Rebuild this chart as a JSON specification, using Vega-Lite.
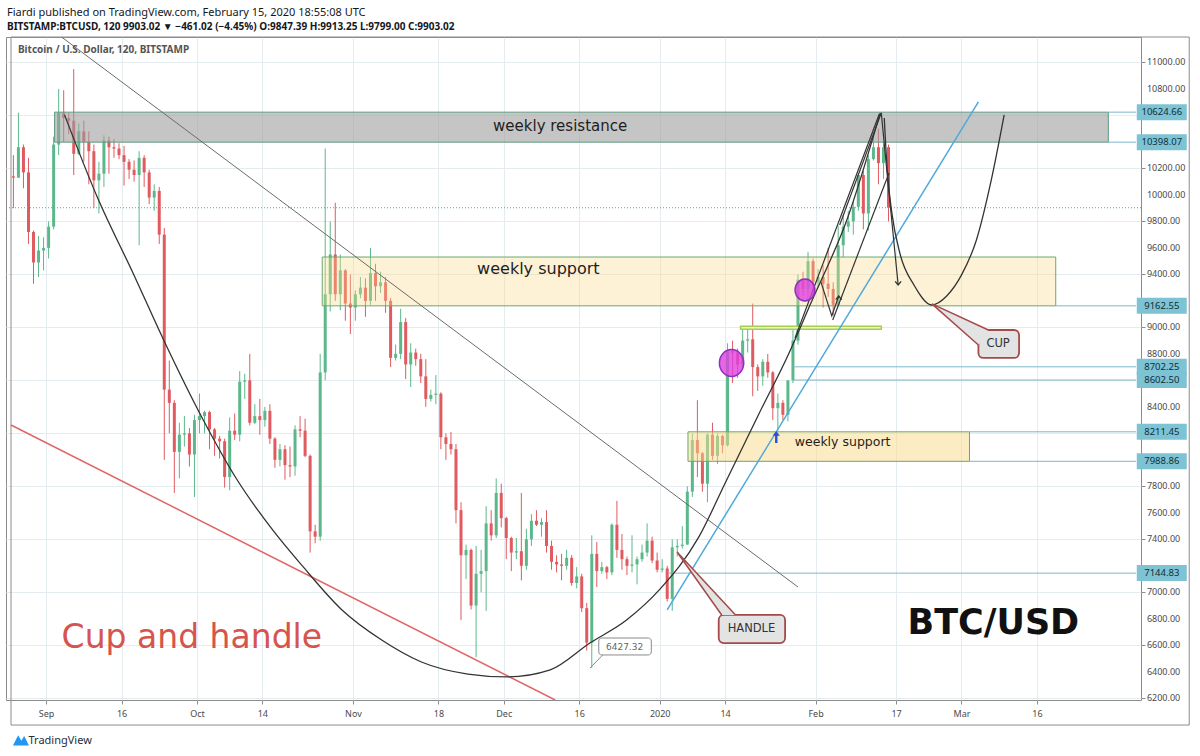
{
  "$schema": "https://vega.github.io/schema/vega-lite/v6.json",
  "width": 1135,
  "height": 663,
  "autosize": "none",
  "padding": {"left": 6, "top": 37, "right": 59, "bottom": 56},
  "background": "#ffffff",
  "title": {
    "text": "Fiardi published on TradingView.com, February 15, 2020 18:55:08 UTC",
    "subtitle": "BITSTAMP:BTCUSD, 120  9903.02 ▼ −461.02 (−4.45%)  O:9847.39  H:9913.25  L:9799.00  C:9903.02",
    "anchor": "start", "frame": "group", "offset": 5, "dx": 1,
    "font": "Noto Sans", "fontSize": 11, "fontWeight": "normal", "color": "#131722",
    "subtitleFont": "Noto Sans", "subtitleFontSize": 10, "subtitleFontWeight": "bold", "subtitleColor": "#131722", "subtitlePadding": 4
  },
  "datasets": {
    "candles": [
      {"d":"2019-08-25","o":10140,"h":10300,"l":9900,"c":10130},
      {"d":"2019-08-26","o":10130,"h":10620,"l":10130,"c":10360},
      {"d":"2019-08-27","o":10360,"h":10380,"l":10050,"c":10170},
      {"d":"2019-08-28","o":10170,"h":10280,"l":9630,"c":9720},
      {"d":"2019-08-29","o":9720,"h":9730,"l":9330,"c":9490},
      {"d":"2019-08-30","o":9490,"h":9690,"l":9380,"c":9580},
      {"d":"2019-08-31","o":9580,"h":9680,"l":9430,"c":9600},
      {"d":"2019-09-01","o":9600,"h":9800,"l":9520,"c":9760},
      {"d":"2019-09-02","o":9760,"h":10440,"l":9740,"c":10380},
      {"d":"2019-09-03","o":10380,"h":10800,"l":10300,"c":10620},
      {"d":"2019-09-04","o":10620,"h":10790,"l":10400,"c":10580},
      {"d":"2019-09-05","o":10580,"h":10620,"l":10460,"c":10560},
      {"d":"2019-09-06","o":10560,"h":10950,"l":10150,"c":10310},
      {"d":"2019-09-07","o":10310,"h":10540,"l":10300,"c":10480},
      {"d":"2019-09-08","o":10480,"h":10560,"l":10250,"c":10400},
      {"d":"2019-09-09","o":10400,"h":10480,"l":10080,"c":10330},
      {"d":"2019-09-10","o":10330,"h":10380,"l":9900,"c":10110},
      {"d":"2019-09-11","o":10110,"h":10250,"l":9860,"c":10160},
      {"d":"2019-09-12","o":10160,"h":10450,"l":10060,"c":10410},
      {"d":"2019-09-13","o":10410,"h":10440,"l":10160,"c":10360},
      {"d":"2019-09-14","o":10360,"h":10420,"l":10280,"c":10350},
      {"d":"2019-09-15","o":10350,"h":10390,"l":10270,"c":10300},
      {"d":"2019-09-16","o":10300,"h":10370,"l":10070,"c":10250},
      {"d":"2019-09-17","o":10250,"h":10270,"l":10120,"c":10190},
      {"d":"2019-09-18","o":10190,"h":10260,"l":10100,"c":10150},
      {"d":"2019-09-19","o":10150,"h":10330,"l":9620,"c":10280},
      {"d":"2019-09-20","o":10280,"h":10300,"l":10060,"c":10170},
      {"d":"2019-09-21","o":10170,"h":10190,"l":9930,"c":9980},
      {"d":"2019-09-22","o":9980,"h":10080,"l":9880,"c":10030},
      {"d":"2019-09-23","o":10030,"h":10060,"l":9630,"c":9700},
      {"d":"2019-09-24","o":9700,"h":9750,"l":8000,"c":8530},
      {"d":"2019-09-25","o":8530,"h":8750,"l":8200,"c":8430},
      {"d":"2019-09-26","o":8430,"h":8450,"l":7750,"c":8060},
      {"d":"2019-09-27","o":8060,"h":8280,"l":7860,"c":8190},
      {"d":"2019-09-28","o":8190,"h":8330,"l":8100,"c":8200},
      {"d":"2019-09-29","o":8200,"h":8240,"l":7950,"c":8040},
      {"d":"2019-09-30","o":8040,"h":8340,"l":7720,"c":8300},
      {"d":"2019-10-01","o":8300,"h":8500,"l":8200,"c":8330},
      {"d":"2019-10-02","o":8330,"h":8370,"l":8200,"c":8360},
      {"d":"2019-10-03","o":8360,"h":8370,"l":8080,"c":8230},
      {"d":"2019-10-04","o":8230,"h":8240,"l":8030,"c":8160},
      {"d":"2019-10-05","o":8160,"h":8180,"l":8010,"c":8140},
      {"d":"2019-10-06","o":8140,"h":8160,"l":7790,"c":7870},
      {"d":"2019-10-07","o":7870,"h":8320,"l":7770,"c":8220},
      {"d":"2019-10-08","o":8220,"h":8350,"l":8150,"c":8190},
      {"d":"2019-10-09","o":8190,"h":8670,"l":8140,"c":8590},
      {"d":"2019-10-10","o":8590,"h":8650,"l":8460,"c":8600},
      {"d":"2019-10-11","o":8600,"h":8800,"l":8260,"c":8280},
      {"d":"2019-10-12","o":8280,"h":8420,"l":8270,"c":8330},
      {"d":"2019-10-13","o":8330,"h":8460,"l":8190,"c":8300},
      {"d":"2019-10-14","o":8300,"h":8400,"l":8250,"c":8370},
      {"d":"2019-10-15","o":8370,"h":8420,"l":8120,"c":8160},
      {"d":"2019-10-16","o":8160,"h":8170,"l":7940,"c":8000},
      {"d":"2019-10-17","o":8000,"h":8120,"l":7950,"c":8080},
      {"d":"2019-10-18","o":8080,"h":8110,"l":7850,"c":7960},
      {"d":"2019-10-19","o":7960,"h":8100,"l":7870,"c":7950},
      {"d":"2019-10-20","o":7950,"h":8260,"l":7880,"c":8230},
      {"d":"2019-10-21","o":8230,"h":8330,"l":8170,"c":8220},
      {"d":"2019-10-22","o":8220,"h":8310,"l":8020,"c":8030},
      {"d":"2019-10-23","o":8030,"h":8040,"l":7300,"c":7460},
      {"d":"2019-10-24","o":7460,"h":7510,"l":7370,"c":7420},
      {"d":"2019-10-25","o":7420,"h":8800,"l":7390,"c":8660},
      {"d":"2019-10-26","o":8660,"h":10350,"l":8600,"c":9250},
      {"d":"2019-10-27","o":9250,"h":9800,"l":9120,"c":9550},
      {"d":"2019-10-28","o":9550,"h":9940,"l":9200,"c":9250},
      {"d":"2019-10-29","o":9250,"h":9550,"l":9130,"c":9430},
      {"d":"2019-10-30","o":9430,"h":9440,"l":9050,"c":9180},
      {"d":"2019-10-31","o":9180,"h":9400,"l":8950,"c":9150},
      {"d":"2019-11-01","o":9150,"h":9280,"l":9050,"c":9250},
      {"d":"2019-11-02","o":9250,"h":9380,"l":9220,"c":9300},
      {"d":"2019-11-03","o":9300,"h":9370,"l":9080,"c":9200},
      {"d":"2019-11-04","o":9200,"h":9600,"l":9170,"c":9410},
      {"d":"2019-11-05","o":9410,"h":9480,"l":9200,"c":9310},
      {"d":"2019-11-06","o":9310,"h":9420,"l":9260,"c":9340},
      {"d":"2019-11-07","o":9340,"h":9380,"l":9110,"c":9200},
      {"d":"2019-11-08","o":9200,"h":9220,"l":8700,"c":8770},
      {"d":"2019-11-09","o":8770,"h":8870,"l":8750,"c":8800},
      {"d":"2019-11-10","o":8800,"h":9140,"l":8760,"c":9040},
      {"d":"2019-11-11","o":9040,"h":9070,"l":8610,"c":8720},
      {"d":"2019-11-12","o":8720,"h":8880,"l":8550,"c":8810},
      {"d":"2019-11-13","o":8810,"h":8840,"l":8710,"c":8760},
      {"d":"2019-11-14","o":8760,"h":8800,"l":8580,"c":8630},
      {"d":"2019-11-15","o":8630,"h":8760,"l":8400,"c":8460},
      {"d":"2019-11-16","o":8460,"h":8530,"l":8440,"c":8490},
      {"d":"2019-11-17","o":8490,"h":8640,"l":8420,"c":8500},
      {"d":"2019-11-18","o":8500,"h":8510,"l":8080,"c":8170},
      {"d":"2019-11-19","o":8170,"h":8200,"l":8000,"c":8120},
      {"d":"2019-11-20","o":8120,"h":8210,"l":8040,"c":8080},
      {"d":"2019-11-21","o":8080,"h":8120,"l":7520,"c":7620},
      {"d":"2019-11-22","o":7620,"h":7680,"l":6790,"c":7280},
      {"d":"2019-11-23","o":7280,"h":7360,"l":7100,"c":7320},
      {"d":"2019-11-24","o":7320,"h":7330,"l":6870,"c":6900},
      {"d":"2019-11-25","o":6900,"h":7350,"l":6510,"c":7140},
      {"d":"2019-11-26","o":7140,"h":7320,"l":7000,"c":7160},
      {"d":"2019-11-27","o":7160,"h":7650,"l":6860,"c":7520},
      {"d":"2019-11-28","o":7520,"h":7620,"l":7390,"c":7430},
      {"d":"2019-11-29","o":7430,"h":7860,"l":7410,"c":7750},
      {"d":"2019-11-30","o":7750,"h":7820,"l":7490,"c":7560},
      {"d":"2019-12-01","o":7560,"h":7570,"l":7250,"c":7410},
      {"d":"2019-12-02","o":7410,"h":7420,"l":7160,"c":7300},
      {"d":"2019-12-03","o":7300,"h":7410,"l":7250,"c":7310},
      {"d":"2019-12-04","o":7310,"h":7750,"l":7090,"c":7200},
      {"d":"2019-12-05","o":7200,"h":7480,"l":7170,"c":7400},
      {"d":"2019-12-06","o":7400,"h":7590,"l":7350,"c":7540},
      {"d":"2019-12-07","o":7540,"h":7620,"l":7500,"c":7510},
      {"d":"2019-12-08","o":7510,"h":7560,"l":7420,"c":7530},
      {"d":"2019-12-09","o":7530,"h":7620,"l":7300,"c":7350},
      {"d":"2019-12-10","o":7350,"h":7390,"l":7170,"c":7230},
      {"d":"2019-12-11","o":7230,"h":7280,"l":7150,"c":7210},
      {"d":"2019-12-12","o":7210,"h":7290,"l":7090,"c":7200},
      {"d":"2019-12-13","o":7200,"h":7320,"l":7170,"c":7260},
      {"d":"2019-12-14","o":7260,"h":7280,"l":7050,"c":7070},
      {"d":"2019-12-15","o":7070,"h":7190,"l":7030,"c":7120},
      {"d":"2019-12-16","o":7120,"h":7140,"l":6850,"c":6880},
      {"d":"2019-12-17","o":6880,"h":6920,"l":6560,"c":6620},
      {"d":"2019-12-18","o":6620,"h":7430,"l":6427.32,"c":7290},
      {"d":"2019-12-19","o":7290,"h":7380,"l":7040,"c":7160},
      {"d":"2019-12-20","o":7160,"h":7230,"l":7140,"c":7190},
      {"d":"2019-12-21","o":7190,"h":7200,"l":7100,"c":7150},
      {"d":"2019-12-22","o":7150,"h":7520,"l":7130,"c":7510},
      {"d":"2019-12-23","o":7510,"h":7690,"l":7260,"c":7320},
      {"d":"2019-12-24","o":7320,"h":7440,"l":7170,"c":7250},
      {"d":"2019-12-25","o":7250,"h":7270,"l":7130,"c":7200},
      {"d":"2019-12-26","o":7200,"h":7430,"l":7150,"c":7210},
      {"d":"2019-12-27","o":7210,"h":7270,"l":7060,"c":7250},
      {"d":"2019-12-28","o":7250,"h":7360,"l":7230,"c":7300},
      {"d":"2019-12-29","o":7300,"h":7520,"l":7270,"c":7390},
      {"d":"2019-12-30","o":7390,"h":7420,"l":7220,"c":7240},
      {"d":"2019-12-31","o":7240,"h":7300,"l":7150,"c":7170},
      {"d":"2020-01-01","o":7170,"h":7250,"l":7150,"c":7180},
      {"d":"2020-01-02","o":7180,"h":7200,"l":6930,"c":6950},
      {"d":"2020-01-03","o":6950,"h":7400,"l":6860,"c":7340},
      {"d":"2020-01-04","o":7340,"h":7400,"l":7270,"c":7350},
      {"d":"2020-01-05","o":7350,"h":7500,"l":7330,"c":7360},
      {"d":"2020-01-06","o":7360,"h":7800,"l":7360,"c":7760},
      {"d":"2020-01-07","o":7760,"h":8200,"l":7720,"c":8150},
      {"d":"2020-01-08","o":8150,"h":8450,"l":7870,"c":8050},
      {"d":"2020-01-09","o":8050,"h":8060,"l":7760,"c":7820},
      {"d":"2020-01-10","o":7820,"h":8200,"l":7680,"c":8190},
      {"d":"2020-01-11","o":8190,"h":8280,"l":8000,"c":8030},
      {"d":"2020-01-12","o":8030,"h":8200,"l":7970,"c":8180},
      {"d":"2020-01-13","o":8180,"h":8190,"l":8050,"c":8110},
      {"d":"2020-01-14","o":8110,"h":8880,"l":8100,"c":8820},
      {"d":"2020-01-15","o":8820,"h":8900,"l":8580,"c":8810},
      {"d":"2020-01-16","o":8810,"h":8840,"l":8620,"c":8720},
      {"d":"2020-01-17","o":8720,"h":9000,"l":8680,"c":8900},
      {"d":"2020-01-18","o":8900,"h":9000,"l":8810,"c":8910},
      {"d":"2020-01-19","o":8910,"h":9180,"l":8480,"c":8700},
      {"d":"2020-01-20","o":8700,"h":8720,"l":8520,"c":8630},
      {"d":"2020-01-21","o":8630,"h":8760,"l":8560,"c":8740},
      {"d":"2020-01-22","o":8740,"h":8800,"l":8620,"c":8660},
      {"d":"2020-01-23","o":8660,"h":8670,"l":8300,"c":8390},
      {"d":"2020-01-24","o":8390,"h":8500,"l":8220,"c":8430},
      {"d":"2020-01-25","o":8430,"h":8450,"l":8300,"c":8340},
      {"d":"2020-01-26","o":8340,"h":8600,"l":8290,"c":8600},
      {"d":"2020-01-27","o":8600,"h":8980,"l":8580,"c":8900},
      {"d":"2020-01-28","o":8900,"h":9400,"l":8870,"c":9360},
      {"d":"2020-01-29","o":9360,"h":9420,"l":9240,"c":9290},
      {"d":"2020-01-30","o":9290,"h":9570,"l":9200,"c":9500},
      {"d":"2020-01-31","o":9500,"h":9520,"l":9230,"c":9340},
      {"d":"2020-02-01","o":9340,"h":9440,"l":9300,"c":9380},
      {"d":"2020-02-02","o":9380,"h":9470,"l":9150,"c":9330},
      {"d":"2020-02-03","o":9330,"h":9600,"l":9230,"c":9290},
      {"d":"2020-02-04","o":9290,"h":9340,"l":9090,"c":9170},
      {"d":"2020-02-05","o":9170,"h":9770,"l":9160,"c":9620},
      {"d":"2020-02-06","o":9620,"h":9850,"l":9530,"c":9760},
      {"d":"2020-02-07","o":9760,"h":9880,"l":9720,"c":9800},
      {"d":"2020-02-08","o":9800,"h":9950,"l":9700,"c":9910},
      {"d":"2020-02-09","o":9910,"h":10160,"l":9880,"c":10150},
      {"d":"2020-02-10","o":10150,"h":10180,"l":9740,"c":9860},
      {"d":"2020-02-11","o":9860,"h":10300,"l":9730,"c":10270},
      {"d":"2020-02-12","o":10270,"h":10450,"l":10260,"c":10360},
      {"d":"2020-02-13","o":10360,"h":10500,"l":10080,"c":10240},
      {"d":"2020-02-14","o":10240,"h":10390,"l":10120,"c":10360},
      {"d":"2020-02-15","o":10360,"h":10380,"l":9800,"c":9903.02}
    ],
    "boxes": [
      {"n":"res","d":"2019-09-02T16:30Z","d2":"2020-03-30T05:00Z","p":10624.66,"p2":10398.07},
      {"n":"sup1","d":"2019-10-25T21:40Z","d2":"2020-03-19T18:00Z","p":9531,"p2":9162.55},
      {"n":"sup2","d":"2020-01-06T15:00Z","d2":"2020-03-02T14:25Z","p":8211.45,"p2":7988.86},
      {"n":"green","d":"2020-01-17T02:00Z","d2":"2020-02-14T01:30Z","p":9008,"p2":8985}
    ],
    "rays": [
      {"d":"2020-03-30T05:00Z","p":10624.66},
      {"d":"2020-03-30T05:00Z","p":10398.07},
      {"d":"2020-03-19T18:00Z","p":9162.55},
      {"d":"2020-01-27T12:45Z","p":8702.25},
      {"d":"2020-01-27T12:45Z","p":8602.5},
      {"d":"2020-03-02T14:25Z","p":8211.45},
      {"d":"2020-03-02T14:25Z","p":7988.86},
      {"d":"2020-01-02T21:20Z","p":7144.83}
    ],
    "yticks": [
      {"v":6200},{"v":6400},{"v":6600},{"v":6800},{"v":7000},{"v":7400},{"v":7600},{"v":7800},
      {"v":8400},{"v":8800},{"v":9000},{"v":9400},{"v":9600},{"v":9800},{"v":10000},{"v":10200},
      {"v":10800},{"v":11000}
    ],
    "segs": [
      {"g":"dn","k":1,"d":"2019-09-04T01:40Z","p":11192},
      {"g":"dn","k":2,"d":"2020-01-28T12:00Z","p":7040},
      {"g":"red","k":1,"d":"2019-08-25T00:30Z","p":8263},
      {"g":"red","k":2,"d":"2019-12-11T05:20Z","p":6187},
      {"g":"blue","k":1,"d":"2020-01-02T11:45Z","p":6867},
      {"g":"blue","k":2,"d":"2020-03-04T09:00Z","p":10702},
      {"g":"cup","k":1,"d":"2019-09-04T16:00Z","p":10604},
      {"g":"cup","k":2,"d":"2019-09-11T04:00Z","p":9984},
      {"g":"cup","k":3,"d":"2019-09-18T11:00Z","p":9396},
      {"g":"cup","k":4,"d":"2019-09-24T09:00Z","p":8905},
      {"g":"cup","k":5,"d":"2019-10-02T06:00Z","p":8301},
      {"g":"cup","k":6,"d":"2019-10-08T18:00Z","p":7863},
      {"g":"cup","k":7,"d":"2019-10-16T01:00Z","p":7471},
      {"g":"cup","k":8,"d":"2019-10-21T23:00Z","p":7199},
      {"g":"cup","k":9,"d":"2019-10-29T20:00Z","p":6867},
      {"g":"cup","k":10,"d":"2019-11-06T17:30Z","p":6640},
      {"g":"cup","k":11,"d":"2019-11-14T15:00Z","p":6474},
      {"g":"cup","k":12,"d":"2019-11-23T21:00Z","p":6383},
      {"g":"cup","k":13,"d":"2019-12-01T18:00Z","p":6361},
      {"g":"cup","k":14,"d":"2019-12-10T05:45Z","p":6414},
      {"g":"cup","k":15,"d":"2019-12-18T03:00Z","p":6617},
      {"g":"cup","k":16,"d":"2019-12-25T10:00Z","p":6791},
      {"g":"cup","k":17,"d":"2019-12-31T22:00Z","p":7018},
      {"g":"cup","k":18,"d":"2020-01-08T19:00Z","p":7418},
      {"g":"cup","k":19,"d":"2020-01-14T03:00Z","p":7833},
      {"g":"cup","k":20,"d":"2020-01-20T15:00Z","p":8339},
      {"g":"cup","k":21,"d":"2020-01-26T13:00Z","p":8792},
      {"g":"cup","k":22,"d":"2020-01-31T01:40Z","p":9184},
      {"g":"cup","k":23,"d":"2020-02-07T08:40Z","p":9826},
      {"g":"cup","k":24,"d":"2020-02-13T20:40Z","p":10619},
      {"g":"cup2","k":1,"d":"2020-02-14T15:40Z","p":10581},
      {"g":"cup2","k":2,"d":"2020-02-15T05:50Z","p":10188},
      {"g":"cup2","k":3,"d":"2020-02-16T05:20Z","p":9849},
      {"g":"cup2","k":4,"d":"2020-02-17T19:10Z","p":9554},
      {"g":"cup2","k":5,"d":"2020-02-20T13:30Z","p":9320},
      {"g":"cup2","k":6,"d":"2020-02-24T02:40Z","p":9169},
      {"g":"cup2","k":7,"d":"2020-02-27T01:40Z","p":9237},
      {"g":"cup2","k":8,"d":"2020-03-01T00:30Z","p":9396},
      {"g":"cup2","k":9,"d":"2020-03-03T23:30Z","p":9660},
      {"g":"cup2","k":10,"d":"2020-03-06T22:30Z","p":10113},
      {"g":"cup2","k":11,"d":"2020-03-09T12:00Z","p":10604},
      {"g":"wA","k":1,"d":"2020-01-27T21:40Z","p":8920},
      {"g":"wA","k":2,"d":"2020-02-13T16:00Z","p":10611},
      {"g":"wA2","k":1,"d":"2020-02-05T19:00Z","p":9773},
      {"g":"wA2","k":2,"d":"2020-02-14T01:30Z","p":10619},
      {"g":"wC","k":1,"d":"2020-02-04T09:50Z","p":9056},
      {"g":"wC","k":2,"d":"2020-02-15T14:25Z","p":10166},
      {"g":"drop","k":1,"d":"2020-02-14T01:30Z","p":10619},
      {"g":"drop","k":2,"d":"2020-02-15T06:00Z","p":10151},
      {"g":"drop","k":3,"d":"2020-02-17T10:00Z","p":9320},
      {"g":"zig","k":1,"d":"2020-02-02T01:10Z","p":9343},
      {"g":"zig","k":2,"d":"2020-02-04T05:20Z","p":9086},
      {"g":"zig","k":3,"d":"2020-02-05T14:25Z","p":9237},
      {"g":"hp","k":1,"d":"2020-01-16T02:00Z","p":6829},
      {"g":"hp","k":2,"d":"2020-01-04T11:00Z","p":7304},
      {"g":"hp","k":3,"d":"2020-01-13T08:00Z","p":6829},
      {"g":"cp","k":1,"d":"2020-03-06T08:30Z","p":8980},
      {"g":"cp","k":2,"d":"2020-02-24T03:00Z","p":9177},
      {"g":"cp","k":3,"d":"2020-03-04T09:00Z","p":8867},
      {"g":"pp","k":1,"d":"2019-12-18T03:00Z","p":6427.32},
      {"g":"pp","k":2,"d":"2019-12-20T16:20Z","p":6527}
    ],
    "callouts": [
      {"n":"handle","d":"2020-01-12T17:45Z","d2":"2020-01-25T22:30Z","p":6829,"p2":6617},
      {"n":"cup","d":"2020-03-04T09:00Z","d2":"2020-03-12T11:00Z","p":8980,"p2":8769},
      {"n":"low","d":"2019-12-19T21:20Z","d2":"2019-12-30T08:00Z","p":6655,"p2":6527}
    ],
    "spots": [
      {"n":"ell1","d":"2020-01-15T07:00Z","p":8731},
      {"n":"ell2","d":"2020-01-29T21:30Z","p":9282},
      {"n":"barrow","d":"2020-01-24T04:20Z","p":8173},
      {"n":"hdown","d":"2020-02-17T10:00Z","p":9320},
      {"n":"hup","d":"2020-02-05T14:25Z","p":9237},
      {"n":"logo","d":"2019-08-27T00:00Z","p":5885}
    ],
    "notes": [
      {"n":"res","t":"weekly resistance","d":"2019-12-12T05:00Z","p":10521},
      {"n":"sup1","t":"weekly support","d":"2019-12-07T21:00Z","p":9441},
      {"n":"sup2","t":"weekly support","d":"2020-02-06T09:00Z","p":8135},
      {"n":"cah","t":"Cup and handle","d":"2019-09-04T02:00Z","p":6655},
      {"n":"btc","t":"BTC/USD","d":"2020-03-07T08:00Z","p":6768},
      {"n":"leg","t":"Bitcoin / U.S. Dollar, 120, BITSTAMP","d":"2019-08-26T09:40Z","p":11094},
      {"n":"call","t":"HANDLE","d":"2020-01-19T06:00Z","p":6723},
      {"n":"call","t":"CUP","d":"2020-03-08T07:00Z","p":8875},
      {"n":"low","t":"6427.32","d":"2019-12-25T00:30Z","p":6587}
    ]
  },
  "layer": [
    {
      "data": {"name": "candles"},
      "mark": {"type": "rule", "strokeWidth": 1, "xOffset": 2.5},
      "encoding": {
        "x": {
          "field": "d", "type": "temporal", "title": "TradingView",
          "scale": {"type": "utc", "nice": false, "domain": [
            {"year": 2019, "month": 8, "date": 25, "hours": 0, "minutes": 30, "utc": true},
            {"year": 2020, "month": 4, "date": 4, "hours": 17, "utc": true}
          ]},
          "axis": {
            "orient": "bottom", "grid": true,
            "values": [
              {"year": 2019, "month": 9, "date": 1, "utc": true},
              {"year": 2019, "month": 9, "date": 16, "utc": true},
              {"year": 2019, "month": 10, "date": 1, "utc": true},
              {"year": 2019, "month": 10, "date": 14, "utc": true},
              {"year": 2019, "month": 11, "date": 1, "utc": true},
              {"year": 2019, "month": 11, "date": 18, "utc": true},
              {"year": 2019, "month": 12, "date": 1, "utc": true},
              {"year": 2019, "month": 12, "date": 16, "utc": true},
              {"year": 2020, "month": 1, "date": 1, "utc": true},
              {"year": 2020, "month": 1, "date": 14, "utc": true},
              {"year": 2020, "month": 2, "date": 1, "utc": true},
              {"year": 2020, "month": 2, "date": 17, "utc": true},
              {"year": 2020, "month": 3, "date": 1, "utc": true},
              {"year": 2020, "month": 3, "date": 16, "utc": true}
            ],
            "labelExpr": "utcdate(datum.value) == 1 ? (utcmonth(datum.value) == 0 ? utcFormat(datum.value, '%Y') : utcFormat(datum.value, '%b')) : utcFormat(datum.value, '%-d')",
            "labelPadding": 5, "labelFlush": false, "labelOverlap": false,
            "titleAnchor": "start", "titleAlign": "left", "titleX": 22, "titleY": 40, "titleBaseline": "middle",
            "titleFont": "Noto Sans", "titleFontSize": 11, "titleFontWeight": "normal", "titleColor": "#2a2e39"
          }
        },
        "y": {
          "field": "l", "type": "quantitative", "title": null,
          "scale": {"domain": [6187, 11192], "nice": false, "zero": false},
          "axis": {
            "orient": "right", "grid": true, "labels": false,
            "values": [6200, 6400, 6600, 6800, 7000, 7200, 7400, 7600, 7800, 8000, 8200, 8400, 8600, 8800, 9000, 9200, 9400, 9600, 9800, 10000, 10200, 10400, 10600, 10800, 11000]
          }
        },
        "y2": {"field": "h"},
        "color": {"condition": {"test": "datum.c >= datum.o", "value": "#5cb88b"}, "value": "#e05a5f"}
      }
    },
    {
      "data": {"name": "candles"},
      "mark": {"type": "bar", "width": 3, "xOffset": 2.5},
      "encoding": {
        "x": {"field": "d", "type": "temporal"},
        "y": {"field": "o", "type": "quantitative"},
        "y2": {"field": "c"},
        "color": {"condition": {"test": "datum.c >= datum.o", "value": "#5cb88b"}, "value": "#e05a5f"}
      }
    },
    {
      "data": {"name": "boxes"},
      "transform": [{"filter": "datum.n == 'res'"}],
      "mark": {"type": "rect", "fill": "#9e9e9e", "fillOpacity": 0.6, "stroke": "#5d9c82", "strokeWidth": 1},
      "encoding": {
        "x": {"field": "d", "type": "temporal"}, "x2": {"field": "d2"},
        "y": {"field": "p", "type": "quantitative"}, "y2": {"field": "p2"}
      }
    },
    {
      "data": {"name": "boxes"},
      "transform": [{"filter": "datum.n == 'sup1'"}],
      "mark": {"type": "rect", "fill": "#f9d98a", "fillOpacity": 0.35, "stroke": "#6aa86a", "strokeWidth": 1},
      "encoding": {
        "x": {"field": "d", "type": "temporal"}, "x2": {"field": "d2"},
        "y": {"field": "p", "type": "quantitative"}, "y2": {"field": "p2"}
      }
    },
    {
      "data": {"name": "boxes"},
      "transform": [{"filter": "datum.n == 'sup2'"}],
      "mark": {"type": "rect", "fill": "#f9d98a", "fillOpacity": 0.5, "stroke": "#6aa86a", "strokeWidth": 1},
      "encoding": {
        "x": {"field": "d", "type": "temporal"}, "x2": {"field": "d2"},
        "y": {"field": "p", "type": "quantitative"}, "y2": {"field": "p2"}
      }
    },
    {
      "data": {"name": "boxes"},
      "transform": [{"filter": "datum.n == 'green'"}],
      "mark": {"type": "rect", "fill": "#eaf5c5", "stroke": "#a6cf4f", "strokeWidth": 1.5},
      "encoding": {
        "x": {"field": "d", "type": "temporal"}, "x2": {"field": "d2"},
        "y": {"field": "p", "type": "quantitative"}, "y2": {"field": "p2"}
      }
    },
    {
      "data": {"name": "rays"},
      "mark": {"type": "rule", "stroke": "#7ab8c8", "strokeWidth": 1},
      "encoding": {
        "x": {"field": "d", "type": "temporal"},
        "x2": {"datum": {"year": 2020, "month": 4, "date": 4, "hours": 17, "utc": true}},
        "y": {"field": "p", "type": "quantitative"}
      }
    },
    {
      "data": {"values": [{}]},
      "mark": {"type": "rule", "stroke": "#5a9fa8", "strokeWidth": 1, "strokeDash": [1, 2]},
      "encoding": {"y": {"datum": 9903.02, "type": "quantitative"}}
    },
    {
      "data": {"name": "segs"},
      "transform": [{"filter": "datum.g == 'dn'"}],
      "mark": {"type": "line", "stroke": "#6b6b6b", "strokeWidth": 1, "clip": true},
      "encoding": {
        "x": {"field": "d", "type": "temporal"}, "y": {"field": "p", "type": "quantitative"},
        "order": {"field": "k"}
      }
    },
    {
      "data": {"name": "segs"},
      "transform": [{"filter": "datum.g == 'red'"}],
      "mark": {"type": "line", "stroke": "#e06666", "strokeWidth": 1.5, "clip": true},
      "encoding": {
        "x": {"field": "d", "type": "temporal"}, "y": {"field": "p", "type": "quantitative"},
        "order": {"field": "k"}
      }
    },
    {
      "data": {"name": "segs"},
      "transform": [{"filter": "datum.g == 'blue'"}],
      "mark": {"type": "line", "stroke": "#4fa8dc", "strokeWidth": 1.5, "clip": true},
      "encoding": {
        "x": {"field": "d", "type": "temporal"}, "y": {"field": "p", "type": "quantitative"},
        "order": {"field": "k"}
      }
    },
    {
      "data": {"name": "segs"},
      "transform": [{"filter": "datum.g == 'cup' || datum.g == 'cup2'"}],
      "mark": {"type": "line", "stroke": "#333333", "strokeWidth": 1.3, "interpolate": "monotone", "clip": true},
      "encoding": {
        "x": {"field": "d", "type": "temporal"}, "y": {"field": "p", "type": "quantitative"},
        "detail": {"field": "g"}, "order": {"field": "k"}
      }
    },
    {
      "data": {"name": "segs"},
      "transform": [{"filter": "indexof(['wA', 'wA2', 'wC', 'drop', 'zig'], datum.g) >= 0"}],
      "mark": {"type": "line", "stroke": "#333333", "strokeWidth": 1.2, "clip": true},
      "encoding": {
        "x": {"field": "d", "type": "temporal"}, "y": {"field": "p", "type": "quantitative"},
        "detail": {"field": "g"}, "order": {"field": "k"}
      }
    },
    {
      "data": {"name": "callouts"},
      "transform": [{"filter": "datum.n != 'low'"}],
      "mark": {"type": "rect", "fill": "#e3e3e3", "stroke": "#a44a4a", "strokeWidth": 1.8, "cornerRadius": 5},
      "encoding": {
        "x": {"field": "d", "type": "temporal"}, "x2": {"field": "d2"},
        "y": {"field": "p", "type": "quantitative"}, "y2": {"field": "p2"}
      }
    },
    {
      "data": {"name": "callouts"},
      "transform": [{"filter": "datum.n == 'low'"}],
      "mark": {"type": "rect", "fill": "#ffffff", "stroke": "#8a8a8a", "strokeWidth": 1, "cornerRadius": 3},
      "encoding": {
        "x": {"field": "d", "type": "temporal"}, "x2": {"field": "d2"},
        "y": {"field": "p", "type": "quantitative"}, "y2": {"field": "p2"}
      }
    },
    {
      "data": {"name": "segs"},
      "transform": [{"filter": "datum.g == 'hp' || datum.g == 'cp'"}],
      "mark": {"type": "line", "fill": "#e3e3e3", "stroke": "#a44a4a", "strokeWidth": 1.5},
      "encoding": {
        "x": {"field": "d", "type": "temporal"}, "y": {"field": "p", "type": "quantitative"},
        "detail": {"field": "g"}, "order": {"field": "k"}
      }
    },
    {
      "data": {"name": "segs"},
      "transform": [{"filter": "datum.g == 'pp'"}],
      "mark": {"type": "line", "stroke": "#8a8a8a", "strokeWidth": 1},
      "encoding": {
        "x": {"field": "d", "type": "temporal"}, "y": {"field": "p", "type": "quantitative"},
        "order": {"field": "k"}
      }
    },
    {
      "data": {"name": "spots"},
      "transform": [{"filter": "datum.n == 'ell1'"}],
      "mark": {"type": "point", "shape": "M-0.9,0A0.9,1,0,1,1,0.9,0A0.9,1,0,1,1,-0.9,0Z", "size": 729, "filled": true, "fill": "#e040e0", "fillOpacity": 0.8, "stroke": "#9030c0", "strokeWidth": 1.5, "opacity": 1},
      "encoding": {"x": {"field": "d", "type": "temporal"}, "y": {"field": "p", "type": "quantitative"}}
    },
    {
      "data": {"name": "spots"},
      "transform": [{"filter": "datum.n == 'ell2'"}],
      "mark": {"type": "point", "shape": "M-0.9,0A0.9,1,0,1,1,0.9,0A0.9,1,0,1,1,-0.9,0Z", "size": 484, "filled": true, "fill": "#e040e0", "fillOpacity": 0.8, "stroke": "#9030c0", "strokeWidth": 1.5, "opacity": 1},
      "encoding": {"x": {"field": "d", "type": "temporal"}, "y": {"field": "p", "type": "quantitative"}}
    },
    {
      "data": {"name": "spots"},
      "transform": [{"filter": "datum.n == 'barrow'"}],
      "mark": {"type": "point", "shape": "M0,-1L0.6,-0.2L0.2,-0.2L0.2,1L-0.2,1L-0.2,-0.2L-0.6,-0.2Z", "size": 144, "filled": true, "fill": "#2f4fd0", "opacity": 1},
      "encoding": {"x": {"field": "d", "type": "temporal"}, "y": {"field": "p", "type": "quantitative"}}
    },
    {
      "data": {"name": "spots"},
      "transform": [{"filter": "datum.n == 'hdown'"}],
      "mark": {"type": "point", "shape": "M-1,-1.2L0,0L1,-1.2", "size": 36, "filled": false, "stroke": "#333333", "strokeWidth": 1.3, "opacity": 1},
      "encoding": {"x": {"field": "d", "type": "temporal"}, "y": {"field": "p", "type": "quantitative"}}
    },
    {
      "data": {"name": "spots"},
      "transform": [{"filter": "datum.n == 'hup'"}],
      "mark": {"type": "point", "shape": "M-1,1.2L0,0L1,1.2", "size": 36, "filled": false, "stroke": "#333333", "strokeWidth": 1.3, "opacity": 1},
      "encoding": {"x": {"field": "d", "type": "temporal"}, "y": {"field": "p", "type": "quantitative"}}
    },
    {
      "data": {"name": "notes"},
      "transform": [{"filter": "datum.n == 'res'"}],
      "mark": {"type": "text", "font": "DejaVu Sans", "fontSize": 15, "color": "#1e1e1e", "align": "center", "baseline": "middle"},
      "encoding": {"x": {"field": "d", "type": "temporal"}, "y": {"field": "p", "type": "quantitative"}, "text": {"field": "t"}}
    },
    {
      "data": {"name": "notes"},
      "transform": [{"filter": "datum.n == 'sup1'"}],
      "mark": {"type": "text", "font": "DejaVu Sans", "fontSize": 16, "color": "#1e1e1e", "align": "center", "baseline": "middle"},
      "encoding": {"x": {"field": "d", "type": "temporal"}, "y": {"field": "p", "type": "quantitative"}, "text": {"field": "t"}}
    },
    {
      "data": {"name": "notes"},
      "transform": [{"filter": "datum.n == 'sup2'"}],
      "mark": {"type": "text", "font": "DejaVu Sans", "fontSize": 12.5, "color": "#1e1e1e", "align": "center", "baseline": "middle"},
      "encoding": {"x": {"field": "d", "type": "temporal"}, "y": {"field": "p", "type": "quantitative"}, "text": {"field": "t"}}
    },
    {
      "data": {"name": "notes"},
      "transform": [{"filter": "datum.n == 'cah'"}],
      "mark": {"type": "text", "font": "DejaVu Sans", "fontSize": 33, "color": "#d6544e", "align": "left", "baseline": "middle"},
      "encoding": {"x": {"field": "d", "type": "temporal"}, "y": {"field": "p", "type": "quantitative"}, "text": {"field": "t"}}
    },
    {
      "data": {"name": "notes"},
      "transform": [{"filter": "datum.n == 'btc'"}],
      "mark": {"type": "text", "font": "DejaVu Sans", "fontSize": 35, "fontWeight": "bold", "color": "#111111", "align": "center", "baseline": "middle"},
      "encoding": {"x": {"field": "d", "type": "temporal"}, "y": {"field": "p", "type": "quantitative"}, "text": {"field": "t"}}
    },
    {
      "data": {"name": "notes"},
      "transform": [{"filter": "datum.n == 'leg'"}],
      "mark": {"type": "text", "font": "Noto Sans", "fontSize": 10, "fontWeight": "bold", "color": "#555555", "align": "left", "baseline": "middle"},
      "encoding": {"x": {"field": "d", "type": "temporal"}, "y": {"field": "p", "type": "quantitative"}, "text": {"field": "t"}}
    },
    {
      "data": {"name": "notes"},
      "transform": [{"filter": "datum.n == 'call'"}],
      "mark": {"type": "text", "font": "DejaVu Sans", "fontSize": 11.5, "color": "#333333", "align": "center", "baseline": "middle"},
      "encoding": {"x": {"field": "d", "type": "temporal"}, "y": {"field": "p", "type": "quantitative"}, "text": {"field": "t"}}
    },
    {
      "data": {"name": "notes"},
      "transform": [{"filter": "datum.n == 'low'"}],
      "mark": {"type": "text", "font": "DejaVu Sans", "fontSize": 9, "color": "#666666", "align": "center", "baseline": "middle"},
      "encoding": {"x": {"field": "d", "type": "temporal"}, "y": {"field": "p", "type": "quantitative"}, "text": {"field": "t"}}
    },
    {
      "data": {"name": "yticks"},
      "mark": {"type": "text", "font": "Noto Sans", "fontSize": 9, "color": "#4a4a4a", "align": "left", "baseline": "middle"},
      "encoding": {
        "x": {"datum": {"year": 2020, "month": 4, "date": 6, "hours": 21, "utc": true}, "type": "temporal"},
        "y": {"field": "v", "type": "quantitative"},
        "text": {"field": "v", "type": "quantitative", "format": ".2f"}
      }
    },
    {
      "data": {"name": "rays"},
      "mark": {"type": "point", "shape": "M-1,-0.32L1,-0.32L1,0.32L-1,0.32Z", "size": 2500, "filled": true, "fill": "#7dc3d3", "opacity": 1},
      "encoding": {
        "x": {"datum": {"year": 2020, "month": 4, "date": 9, "hours": 20, "utc": true}, "type": "temporal"},
        "y": {"field": "p", "type": "quantitative"}
      }
    },
    {
      "data": {"name": "rays"},
      "mark": {"type": "text", "font": "Noto Sans", "fontSize": 9.5, "color": "#0f2d38", "align": "center", "baseline": "middle"},
      "encoding": {
        "x": {"datum": {"year": 2020, "month": 4, "date": 9, "hours": 20, "utc": true}, "type": "temporal"},
        "y": {"field": "p", "type": "quantitative"},
        "text": {"field": "p", "type": "quantitative", "format": ".2f"}
      }
    },
    {
      "data": {"values": [{}]},
      "mark": {"type": "rect", "filled": false, "stroke": "#8c8c8c", "strokeWidth": 1},
      "encoding": {
        "x": {"datum": {"year": 2019, "month": 8, "date": 25, "hours": 0, "minutes": 30, "utc": true}, "type": "temporal"},
        "x2": {"datum": {"year": 2020, "month": 4, "date": 15, "hours": 7, "utc": true}},
        "y": {"datum": 11192, "type": "quantitative"},
        "y2": {"datum": 5998}
      }
    },
    {
      "data": {"name": "spots"},
      "transform": [{"filter": "datum.n == 'logo'"}],
      "mark": {"type": "point", "shape": "M-1,0.7L-0.35,-0.6L0.05,0.1L0.4,-0.5L1,0.7Z", "size": 256, "filled": true, "fill": "#2196f3", "opacity": 1},
      "encoding": {"x": {"field": "d", "type": "temporal"}, "y": {"field": "p", "type": "quantitative"}}
    }
  ],
  "config": {
    "view": {"stroke": "#8c8c8c"},
    "axis": {
      "gridColor": "#e5ecef", "domain": false, "tickColor": "#8c8c8c", "tickSize": 4,
      "labelFont": "Noto Sans", "labelFontSize": 9, "labelColor": "#4a4a4a"
    }
  }
}
